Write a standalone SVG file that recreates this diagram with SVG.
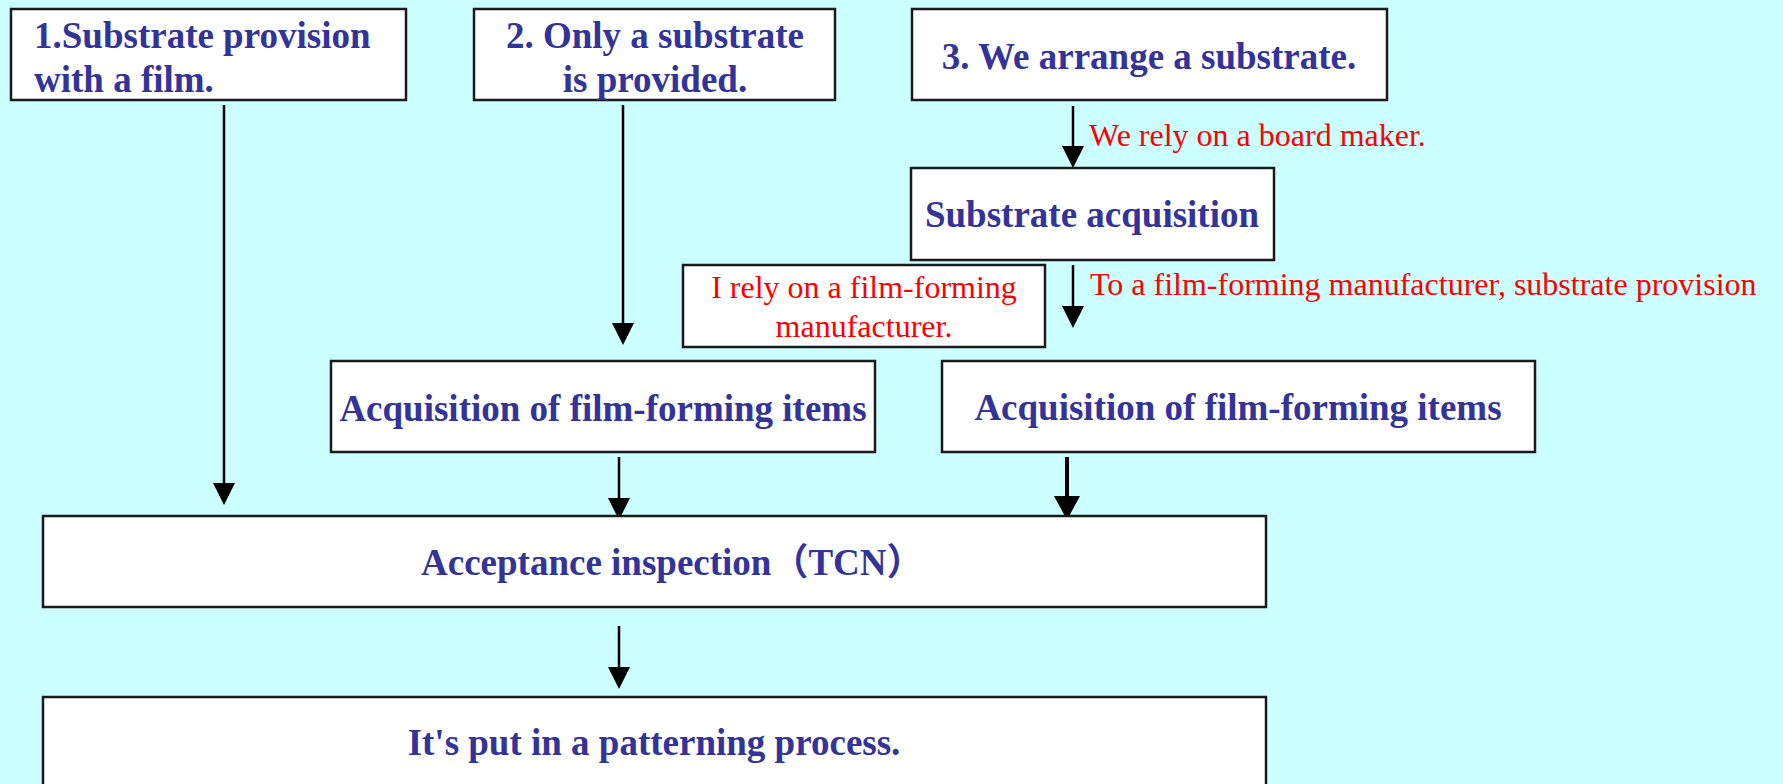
<svg xmlns="http://www.w3.org/2000/svg" width="1783" height="784" viewBox="0 0 1783 784">
  <style>
    .box { fill: #ffffff; stroke: #1a1a1a; stroke-width: 2.5; }
    .t { font-family: "Liberation Serif", "Times New Roman", "Noto Sans CJK JP", serif; font-weight: bold; font-size: 37px; fill: #333399; }
    .r { font-family: "Liberation Serif", "Times New Roman", serif; font-size: 32px; fill: #ff0000; }
    .c { text-anchor: middle; }
    .ln { stroke: #000000; stroke-width: 2.5; fill: none; }
    .lnb { stroke: #000000; stroke-width: 4; fill: none; }
  </style>
  <defs>
    <marker id="ah" markerUnits="userSpaceOnUse" markerWidth="22" markerHeight="22" refX="0" refY="11" orient="auto">
      <path d="M0,0 L22,11 L0,22 z" fill="#000000"/>
    </marker>
    <marker id="ahb" markerUnits="userSpaceOnUse" markerWidth="24" markerHeight="26" refX="0" refY="13" orient="auto">
      <path d="M0,0 L24,13 L0,26 z" fill="#000000"/>
    </marker>
  </defs>
  <rect x="0" y="0" width="1783" height="784" fill="#ccffff"/>

  <g id="connectors">
    <line class="ln" x1="224" y1="105" x2="224" y2="483" marker-end="url(#ah)"/>
    <line class="ln" x1="623" y1="105" x2="623" y2="323" marker-end="url(#ah)"/>
    <line class="ln" x1="1073" y1="106" x2="1073" y2="146" marker-end="url(#ah)"/>
    <line class="ln" x1="1073" y1="265" x2="1073" y2="306" marker-end="url(#ah)"/>
    <line class="ln" x1="619" y1="457" x2="619" y2="498" marker-end="url(#ah)"/>
    <line class="lnb" x1="1067" y1="457" x2="1067" y2="496" marker-end="url(#ahb)"/>
    <line class="ln" x1="619" y1="626" x2="619" y2="667" marker-end="url(#ah)"/>
  </g>

  <g id="label-board-maker">
    <text class="r" x="1089" y="146">We rely on a board maker.</text>
  </g>
  <g id="label-film-maker-provision">
    <text class="r" x="1090" y="295">To a film-forming manufacturer, substrate provision</text>
  </g>

  <g id="node-option1">
    <rect class="box" x="11" y="9" width="395" height="91"/>
    <text class="t" x="34" y="48">1.Substrate provision</text>
    <text class="t" x="34" y="92">with a film.</text>
  </g>
  <g id="node-option2">
    <rect class="box" x="474" y="9" width="361" height="91"/>
    <text class="t c" x="655" y="48">2. Only a substrate</text>
    <text class="t c" x="655" y="92">is provided.</text>
  </g>
  <g id="node-option3">
    <rect class="box" x="912" y="9" width="475" height="91"/>
    <text class="t c" x="1149" y="69">3. We arrange a substrate.</text>
  </g>
  <g id="node-substrate-acquisition">
    <rect class="box" x="911" y="168" width="363" height="92"/>
    <text class="t c" x="1092" y="227">Substrate acquisition</text>
  </g>
  <g id="node-rely-film-maker">
    <rect class="box" x="683" y="265" width="362" height="82"/>
    <text class="r c" x="864" y="298">I rely on a film-forming</text>
    <text class="r c" x="864" y="337">manufacturer.</text>
  </g>
  <g id="node-acq-left">
    <rect class="box" x="331" y="361" width="544" height="91"/>
    <text class="t c" x="603" y="421">Acquisition of film-forming items</text>
  </g>
  <g id="node-acq-right">
    <rect class="box" x="942" y="361" width="593" height="91"/>
    <text class="t c" x="1238" y="420">Acquisition of film-forming items</text>
  </g>
  <g id="node-acceptance">
    <rect class="box" x="43" y="516" width="1223" height="91"/>
    <text class="t" x="421" y="575">Acceptance inspection（TCN）</text>
  </g>
  <g id="node-patterning">
    <rect class="box" x="43" y="697" width="1223" height="100"/>
    <text class="t c" x="654" y="755">It's put in a patterning process.</text>
  </g>
</svg>
